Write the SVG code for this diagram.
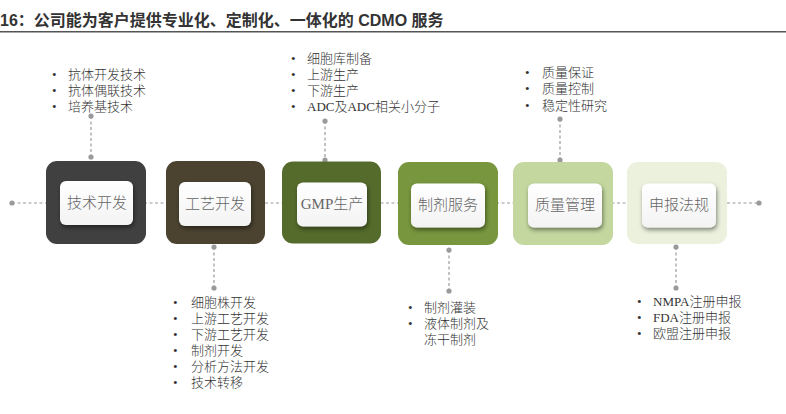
<svg xmlns="http://www.w3.org/2000/svg" width="786" height="414" viewBox="0 0 786 414">
<defs>
<style>
.title{font-family:"Liberation Sans","Noto Sans CJK SC",sans-serif;font-weight:bold;font-size:16px;fill:#333}
.lbl{font-family:"Liberation Serif","Noto Sans CJK SC",serif;font-size:15px;font-weight:300;fill:#666;text-anchor:middle}
.item{font-family:"Liberation Serif","Noto Sans CJK SC",serif;font-size:13px;font-weight:300;fill:#333}
.lat{font-weight:normal}
.dash{stroke:#9a9a9a;stroke-width:1.2;stroke-dasharray:3 2.5;fill:none}
.dot{fill:#9a9a9a}
.inner{fill:url(#wg);filter:url(#sh)}
</style>
<linearGradient id="wg" x1="0" y1="0" x2="0" y2="1">
<stop offset="0" stop-color="#ffffff"/>
<stop offset="1" stop-color="#f3f3f3"/>
</linearGradient>
<filter id="sh" x="-30%" y="-30%" width="160%" height="170%">
<feDropShadow dx="1" dy="2.5" stdDeviation="2.2" flood-color="#000" flood-opacity="0.45"/>
</filter>
</defs>
<rect width="786" height="414" fill="#ffffff"/>
<text class="title" x="0" y="26">16：公司能为客户提供专业化、定制化、一体化的 CDMO 服务</text>
<line x1="0" y1="31.7" x2="786" y2="31.7" stroke="#555" stroke-width="1.5"/>
<g id="connectors">
<line class="dash" x1="12" y1="203" x2="759" y2="203"/>
<circle class="dot" cx="12" cy="203" r="2.6"/>
<circle class="dot" cx="759" cy="203" r="2.6"/>
<line class="dash" x1="91" y1="116" x2="91" y2="157"/>
<circle class="dot" cx="91" cy="116" r="2.6"/><circle class="dot" cx="91" cy="157" r="2.6"/>
<line class="dash" x1="214" y1="247" x2="214" y2="288"/>
<circle class="dot" cx="214" cy="247" r="2.6"/><circle class="dot" cx="214" cy="288" r="2.6"/>
<line class="dash" x1="325" y1="121" x2="325" y2="160"/>
<circle class="dot" cx="325" cy="121" r="2.6"/><circle class="dot" cx="325" cy="160" r="2.6"/>
<line class="dash" x1="449" y1="250" x2="449" y2="291"/>
<circle class="dot" cx="449" cy="250" r="2.6"/><circle class="dot" cx="449" cy="291" r="2.6"/>
<line class="dash" x1="560" y1="119" x2="560" y2="160"/>
<circle class="dot" cx="560" cy="119" r="2.6"/><circle class="dot" cx="560" cy="160" r="2.6"/>
<line class="dash" x1="676" y1="247" x2="676" y2="288"/>
<circle class="dot" cx="676" cy="247" r="2.6"/><circle class="dot" cx="676" cy="288" r="2.6"/>
</g>
<g id="node-1">
<rect x="46" y="161" width="100" height="83" rx="11" fill="#404040"/>
<rect class="inner" x="60" y="181" width="73" height="44" rx="6"/>
<text class="lbl" x="97" y="208">技术开发</text>
<text class="item" x="52" y="79"><tspan>•</tspan><tspan x="68">抗体开发技术</tspan></text>
<text class="item" x="52" y="95"><tspan>•</tspan><tspan x="68">抗体偶联技术</tspan></text>
<text class="item" x="52" y="111"><tspan>•</tspan><tspan x="68">培养基技术</tspan></text>
</g>
<g id="node-2">
<rect x="166" y="161" width="99" height="83" rx="11" fill="#4b4330"/>
<rect class="inner" x="179" y="182" width="72" height="44" rx="6"/>
<text class="lbl" x="215" y="209">工艺开发</text>
<text class="item" x="173" y="307"><tspan>•</tspan><tspan x="191">细胞株开发</tspan></text>
<text class="item" x="173" y="323"><tspan>•</tspan><tspan x="191">上游工艺开发</tspan></text>
<text class="item" x="173" y="339"><tspan>•</tspan><tspan x="191">下游工艺开发</tspan></text>
<text class="item" x="173" y="355"><tspan>•</tspan><tspan x="191">制剂开发</tspan></text>
<text class="item" x="173" y="371"><tspan>•</tspan><tspan x="191">分析方法开发</tspan></text>
<text class="item" x="173" y="387"><tspan>•</tspan><tspan x="191">技术转移</tspan></text>
</g>
<g id="node-3">
<rect x="282" y="161.5" width="99" height="82" rx="11" fill="#546b2b"/>
<rect class="inner" x="297" y="182.5" width="70" height="44" rx="6"/>
<text class="lbl" x="332" y="209"><tspan class="lat">GMP</tspan>生产</text>
<text class="item" x="291" y="63"><tspan>•</tspan><tspan x="307">细胞库制备</tspan></text>
<text class="item" x="291" y="79"><tspan>•</tspan><tspan x="307">上游生产</tspan></text>
<text class="item" x="291" y="95"><tspan>•</tspan><tspan x="307">下游生产</tspan></text>
<text class="item" x="291" y="111"><tspan>•</tspan><tspan x="307"><tspan class="lat">ADC</tspan>及<tspan class="lat">ADC</tspan>相关小分子</tspan></text>
</g>
<g id="node-4">
<rect x="398" y="162" width="100" height="83" rx="11" fill="#77963d"/>
<rect class="inner" x="411" y="183.5" width="74" height="44" rx="6"/>
<text class="lbl" x="448" y="210">制剂服务</text>
<text class="item" x="408" y="312"><tspan>•</tspan><tspan x="424">制剂灌装</tspan></text>
<text class="item" x="408" y="328"><tspan>•</tspan><tspan x="424">液体制剂及</tspan></text>
<text class="item" x="424" y="344">冻干制剂</text>
</g>
<g id="node-5">
<rect x="513" y="162" width="100" height="83" rx="11" fill="#c3d79f"/>
<rect class="inner" x="528" y="183.5" width="74" height="44" rx="6"/>
<text class="lbl" x="565" y="210">质量管理</text>
<text class="item" x="525" y="77"><tspan>•</tspan><tspan x="542">质量保证</tspan></text>
<text class="item" x="525" y="93"><tspan>•</tspan><tspan x="542">质量控制</tspan></text>
<text class="item" x="525" y="110"><tspan>•</tspan><tspan x="542">稳定性研究</tspan></text>
</g>
<g id="node-6">
<rect x="627" y="162" width="100" height="82" rx="11" fill="#ebf1dd"/>
<rect class="inner" x="642" y="183.5" width="74" height="44" rx="6"/>
<text class="lbl" x="679" y="210">申报法规</text>
<text class="item" x="637" y="306"><tspan>•</tspan><tspan x="653"><tspan class="lat">NMPA</tspan>注册申报</tspan></text>
<text class="item" x="637" y="322"><tspan>•</tspan><tspan x="653"><tspan class="lat">FDA</tspan>注册申报</tspan></text>
<text class="item" x="637" y="338"><tspan>•</tspan><tspan x="653">欧盟注册申报</tspan></text>
</g>
</svg>
